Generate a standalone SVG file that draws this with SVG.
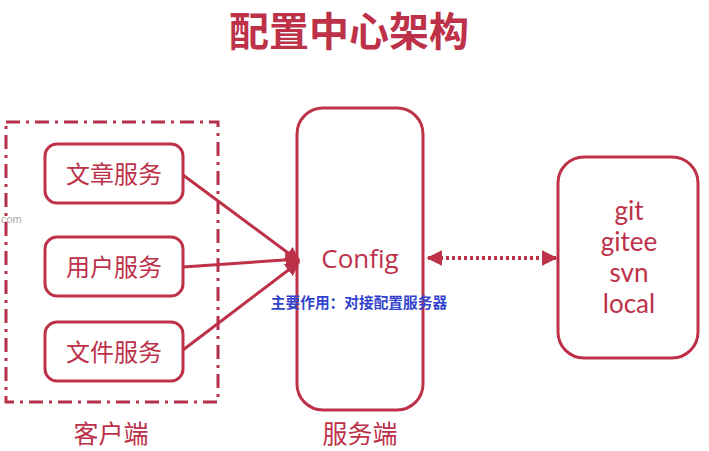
<svg xmlns="http://www.w3.org/2000/svg" width="709" height="451" viewBox="0 0 709 451">
<defs>
<style>
.box{fill:#fff;stroke:#bd3149;stroke-width:3}
.t{font-family:"Noto Sans CJK SC","Noto Sans",sans-serif;fill:#bd3149;text-anchor:middle}
.e{font-family:"Open Sans","Noto Sans",sans-serif;fill:#bd3149;text-anchor:middle;font-size:26px}
.r{font-family:Lato,"Open Sans",sans-serif;fill:#bd3149;text-anchor:middle;font-size:26px}
.ln{stroke:#bd3149;stroke-width:3;fill:none}
</style>
<marker id="ah" viewBox="0 0 10 10" refX="9" refY="5" markerWidth="5" markerHeight="5" orient="auto"><path d="M0,0 L10,5 L0,10 Z" fill="#bd3149"/></marker>
<marker id="ds" viewBox="0 0 10 10" refX="9" refY="5" markerWidth="4" markerHeight="4" orient="auto"><path d="M0,0 L10,5 L0,10 Z" fill="#bd3149"/></marker>
<marker id="dsr" viewBox="0 0 10 10" refX="1" refY="5" markerWidth="4" markerHeight="4" orient="auto"><path d="M10,0 L0,5 L10,10 Z" fill="#bd3149"/></marker>
</defs>
<rect width="709" height="451" fill="#fff"/>
<text x="349" y="46" class="t" font-size="40" font-weight="bold">配置中心架构</text>
<text x="1" y="223" font-family="Liberation Sans,sans-serif" font-size="11" fill="#aaa">com</text>
<g id="client">
<rect x="6" y="122" width="212" height="280" fill="none" stroke="#b5304a" stroke-width="3" stroke-dasharray="14,6,3,6"/>
<text x="111" y="443" class="t" font-size="25">客户端</text>
</g>
<g id="article"><rect x="45" y="144" width="138" height="59" rx="12" class="box"/><text x="114" y="183" class="t" font-size="24">文章服务</text></g>
<g id="user"><rect x="45" y="237" width="138" height="59" rx="12" class="box"/><text x="114" y="276" class="t" font-size="24">用户服务</text></g>
<g id="file"><rect x="45" y="322" width="138" height="59" rx="12" class="box"/><text x="114" y="361" class="t" font-size="24">文件服务</text></g>
<g id="config"><rect x="297" y="108" width="126" height="302" rx="26" class="box"/><text x="360" y="268" class="e">Config</text><text x="360" y="443" class="t" font-size="25">服务端</text></g>
<g id="repo"><rect x="558" y="157" width="140" height="201" rx="26" class="box"/>
<text x="629" y="220" class="r">git</text><text x="629" y="251" class="r">gitee</text><text x="629" y="282" class="r">svn</text><text x="629" y="313" class="r">local</text></g>
<g id="connectors">
<line x1="183" y1="175" x2="299" y2="261" class="ln" marker-end="url(#ah)"/>
<line x1="183" y1="267" x2="299" y2="259" class="ln" marker-end="url(#ah)"/>
<line x1="183" y1="350" x2="299" y2="262" class="ln" marker-end="url(#ah)"/>
<line x1="428" y1="258" x2="556" y2="258" stroke="#bd3149" stroke-width="4" stroke-dasharray="3,3" marker-start="url(#dsr)" marker-end="url(#ds)"/>
</g>
<text x="359" y="308" font-family="Noto Sans CJK SC,sans-serif" font-size="14.7" font-weight="bold" fill="#3344cc" text-anchor="middle">主要作用：对接配置服务器</text>
</svg>
